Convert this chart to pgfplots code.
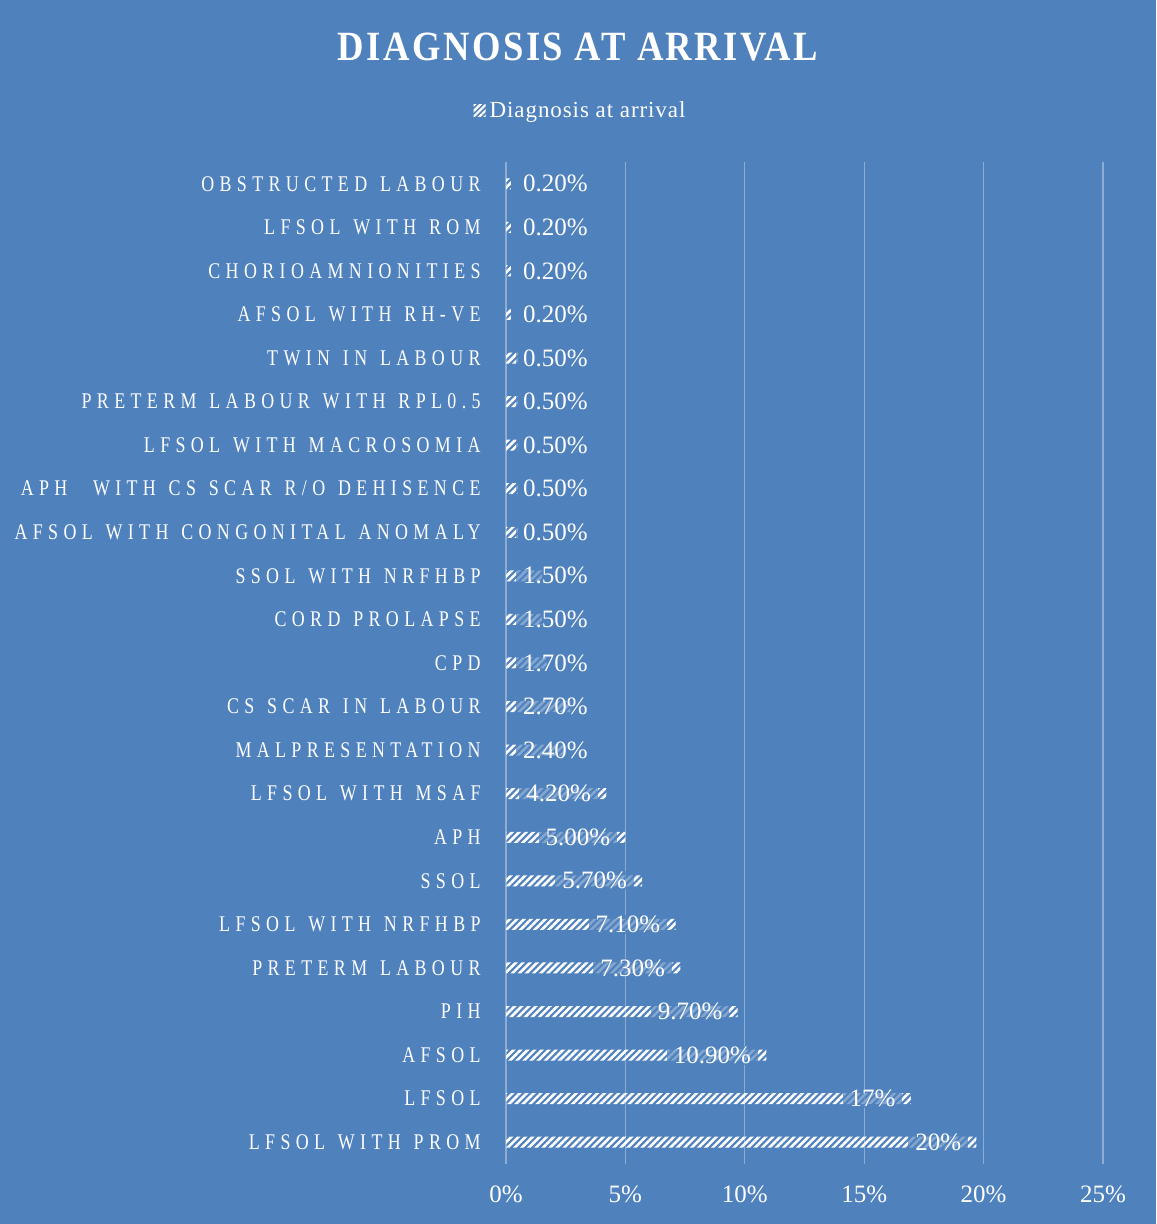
\documentclass[border=0pt]{standalone}
\usepackage{fontspec}
\setmainfont{Liberation Serif}
\newfontfamily\catfont[FakeStretch=0.8,LetterSpace=24,WordSpace=1.3]{Liberation Serif}
\newfontfamily\titlefont[FakeStretch=0.88,LetterSpace=6]{Liberation Serif}
\newfontfamily\legfont[LetterSpace=4]{Liberation Serif}
\usepackage{pgfplots}
\pgfplotsset{compat=1.18}
\usepackage{pgfplotstable}
\usetikzlibrary{patterns.meta}
\definecolor{bg}{RGB}{79,129,189}

\pgfplotstableread{
idx val lx lab
0 19.7 19.37 20
1 16.95 16.62 17
2 10.9 10.57 10.90
3 9.7 9.37 9.70
4 7.3 6.97 7.30
5 7.1 6.77 7.10
6 5.7 5.37 5.70
7 5.0 4.67 5.00
8 4.2 3.87 4.20
9 2.4 3.73 2.40
10 2.7 3.73 2.70
11 1.7 3.73 1.70
12 1.5 3.73 1.50
13 1.5 3.73 1.50
14 0.5 3.73 0.50
15 0.5 3.73 0.50
16 0.5 3.73 0.50
17 0.5 3.73 0.50
18 0.5 3.73 0.50
19 0.2 3.73 0.20
20 0.2 3.73 0.20
21 0.2 3.73 0.20
22 0.2 3.73 0.20
}\datatable

\begin{document}
\begin{tikzpicture}
\path[use as bounding box] (0,0) rectangle (578pt,612pt);
\fill[bg] (0,0) rectangle (578pt,612pt);
\node[text=white, inner sep=0pt] at (289pt,588.5pt) {\titlefont\bfseries\fontsize{20.8}{22}\selectfont DIAGNOSIS AT ARRIVAL};
\begin{axis}[
  at={(253pt,30pt)}, anchor=south west,
  width=298.5pt, height=501pt, scale only axis,
  xmin=0, xmax=25, ymin=-0.5, ymax=22.5,
  axis line style={draw=none},
  major tick length=0pt,
  xtick={0,5,10,15,20,25},
  xticklabels={0\%,5\%,10\%,15\%,20\%,25\%},
  xticklabel style={font=\fontsize{12.5}{13}\selectfont, text=white, inner sep=0pt, anchor=center, yshift=-15pt},
  ytick={0,...,22},
  yticklabels={LFSOL WITH PROM, LFSOL, AFSOL, PIH, PRETERM LABOUR, LFSOL WITH NRFHBP, SSOL, APH, LFSOL WITH MSAF, MALPRESENTATION, CS SCAR IN LABOUR, CPD, CORD PROLAPSE, SSOL WITH NRFHBP, AFSOL WITH CONGONITAL ANOMALY, APH\ \ WITH CS SCAR R/O DEHISENCE, LFSOL WITH MACROSOMIA, PRETERM LABOUR WITH RPL0.5, TWIN IN LABOUR, AFSOL WITH RH-VE, CHORIOAMNIONITIES, LFSOL WITH ROM, OBSTRUCTED LABOUR},
  yticklabel style={font=\catfont\fontsize{11.2}{12}\selectfont, text=white, inner sep=0pt, anchor=east, xshift=-12.5pt},
  xmajorgrids,
  major grid style={white, opacity=0.35, line width=0.6pt},
  legend style={at={(0.1265,1.0509)}, anchor=center, draw=none, fill=none, text=white, font=\legfont\fontsize{11.5}{12}\selectfont, inner sep=0pt},
  legend image code/.code={\fill[pattern={Lines[angle=45,distance=2pt,line width=1.1pt]}, pattern color=white] (0pt,-3pt) rectangle (6pt,3pt);},
]
\addplot[xbar, bar width=5.5pt, bar shift=0pt, draw=none,
  pattern={Lines[angle=45,distance=2.5pt,line width=1.3pt]}, pattern color=white]
  table[x=val,y=idx]{\datatable};
\addlegendentry{Diagnosis at arrival}
\addplot[draw=none, mark=none, forget plot,
  nodes near coords={\pgfplotspointmeta\%},
  point meta=explicit symbolic,
  nodes near coords style={anchor=east, font=\fontsize{12.5}{13}\selectfont, text=white, fill=bg, fill opacity=0.7, text opacity=1, inner xsep=3.5pt, inner ysep=0.5pt}]
  table[x=lx,y=idx,meta=lab]{\datatable};
\end{axis}
\end{tikzpicture}
\end{document}
